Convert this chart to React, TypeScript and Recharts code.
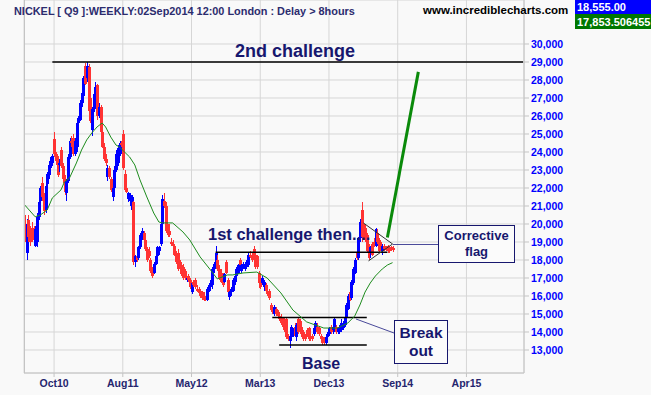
import { ComposedChart, Bar, Line, XAxis, YAxis, CartesianGrid, ReferenceLine } from 'recharts';

const FONT = '"Liberation Sans", Arial, sans-serif';
const NAVY = '#17176e';

// weekly OHLC, Jun 2010 .. 02 Sep 2014
const opens = [
  19800, 18400, 20200, 19500, 19800, 19500, 18800, 19000, 20400, 21300, 22300, 21500, 20800, 22200, 22700, 23300, 23400, 24700, 23900, 23600,
  23300, 24100, 23200, 22500, 21700, 22400, 23700, 24600, 24800, 23900, 24300, 25600, 25800, 26700, 27100, 28800, 28100, 28700, 27000, 25200,
  26400, 27200, 27700, 26000, 26500, 25100, 24300, 23600, 22600, 23100, 22500, 21500, 22000, 23000, 23400, 23900, 24500, 25000, 22800, 22000,
  21400, 21300, 20800, 21200, 17900, 18200, 18100, 18700, 19300, 19500, 19100, 18600, 18500, 18000, 17500, 17300, 17800, 18200, 18500, 18900,
  20000, 21300, 21000, 19800, 19600, 19000, 18900, 18800, 18400, 18400, 17900, 17700, 17600, 17400, 16900, 17100, 16900, 16200, 16800, 16900,
  16400, 16300, 16300, 16200, 16000, 15900, 15800, 16300, 16600, 16600, 17500, 17800, 18000, 17500, 17300, 17100, 16800, 17900, 16900, 15950,
  16200, 16300, 16800, 17100, 17300, 18000, 17400, 17700, 17500, 17800, 17700, 18300, 18300, 18600, 18300, 18200, 17300, 16700, 16700, 16500,
  16600, 16300, 16300, 15500, 15400, 15000, 15300, 15100, 14900, 14800, 14700, 14600, 14700, 13800, 13500, 13700, 14000, 14300, 13700, 14700,
  14600, 14100, 14000, 13800, 14100, 14200, 13800, 13800, 13900, 14200, 14300, 14200, 13800, 13700, 13600, 13400, 13700, 13900, 14300, 14100,
  14100, 14300, 14000, 14000, 14100, 14200, 14400, 14800, 15300, 16200, 15900, 16700, 17300, 18400, 18100, 19200, 20800, 20000, 19800, 19400,
  18800, 18400, 18900, 19000, 18800, 19500, 19100, 18900, 18500, 18800, 18700, 18800, 18600, 18700, 18650,
];
const highs = [
  20500, 20300, 20500, 19900, 20100, 19900, 19900, 20600, 21400, 22100, 22600, 21700, 22300, 22900, 23500, 23800, 23900, 25100, 24000, 23800,
  23600, 24300, 23400, 22700, 22500, 23900, 24800, 24900, 25000, 24800, 25800, 26000, 26900, 27500, 28200, 28950, 29000, 28900, 27300, 26500,
  27500, 27900, 27800, 26700, 26600, 25200, 24500, 23900, 23300, 23200, 22600, 22100, 23200, 24100, 24400, 24600, 24600, 25200, 23000, 22300,
  21800, 21700, 21600, 21300, 18300, 18500, 18800, 19500, 19800, 19600, 19300, 18700, 18700, 18100, 17600, 17900, 18300, 18800, 18800, 20100,
  21600, 21700, 21200, 20000, 20000, 19200, 19100, 18900, 18500, 18600, 18000, 17800, 17800, 17500, 17100, 17200, 17000, 16800, 16900, 17000,
  16600, 16500, 16400, 16300, 16200, 16000, 16500, 16700, 17000, 17600, 17900, 18800, 18300, 17700, 17500, 17300, 17300, 18000, 17000, 16300,
  16500, 17000, 17200, 17600, 17800, 18100, 17800, 17900, 17900, 18100, 18400, 18500, 18400, 18750, 18400, 18300, 17400, 16900, 17100, 16900,
  16700, 16500, 16400, 15600, 15500, 15500, 15400, 15200, 15000, 15000, 14800, 14800, 14800, 13900, 13900, 14400, 14200, 14500, 14500, 14800,
  14700, 14300, 14100, 13900, 14200, 14300, 13900, 13900, 14300, 14600, 14500, 14300, 13900, 13800, 13700, 13800, 14000, 14300, 14400, 14400,
  14800, 14400, 14300, 14400, 14700, 14600, 14900, 15600, 16100, 16300, 16900, 17600, 18100, 18500, 19300, 20300, 21200, 20100, 20000, 19500,
  18900, 18800, 19000, 19200, 19800, 19700, 19200, 19000, 18900, 18900, 18800, 18850, 18700, 18800, 18750,
];
const lows = [
  19000, 18000, 19000, 18800, 19000, 18900, 18700, 18700, 20200, 21200, 21300, 20500, 20600, 22000, 22500, 23100, 23200, 23700, 23300, 22600,
  22900, 23100, 22300, 21600, 21300, 22300, 23600, 24300, 23800, 23800, 24000, 25400, 25700, 26500, 27000, 27700, 27900, 26200, 25600, 24900,
  26200, 26500, 25800, 25900, 25000, 24200, 23500, 23200, 22400, 22500, 21800, 21300, 21900, 22900, 23200, 23800, 24300, 23000, 21800, 21700,
  21200, 21000, 20500, 17700, 17600, 17900, 18000, 18600, 19100, 19000, 18500, 17900, 18100, 17300, 17000, 17200, 17700, 18100, 18300, 18800,
  19900, 20900, 19500, 19300, 19300, 18800, 18600, 18200, 17800, 17400, 17400, 17100, 16900, 16900, 16800, 16800, 16400, 16100, 16500, 16400,
  16200, 16100, 15900, 15800, 15700, 15700, 15700, 16200, 16500, 16400, 17300, 17700, 17400, 16900, 16700, 16500, 16700, 17200, 16100, 15800,
  16000, 16200, 16600, 17000, 17200, 17600, 17300, 17500, 17400, 17600, 17600, 18100, 17900, 18200, 17500, 17500, 16450, 16400, 16600, 16300,
  16200, 16000, 15800, 15100, 15000, 14900, 14900, 14800, 14600, 14400, 14200, 14000, 13600, 13500, 13100, 13500, 13700, 13700, 13500, 13900,
  13900, 13600, 13500, 13500, 13700, 13500, 13500, 13500, 13800, 14100, 13900, 13800, 13500, 13300, 13300, 13300, 13600, 13800, 13900, 13900,
  14000, 13900, 13900, 13900, 14000, 14100, 14300, 14700, 15200, 15700, 15800, 16600, 17200, 18000, 18000, 19000, 19000, 19200, 19000, 18400,
  18000, 18100, 18200, 18700, 18700, 18900, 18400, 18600, 18300, 18500, 18500, 18400, 18400, 18500, 18450,
];
const closes = [
  19200, 20000, 19300, 19000, 19200, 19100, 19700, 20400, 21200, 22000, 21500, 20700, 22100, 22800, 23300, 23700, 23800, 23900, 23500, 22700,
  23400, 23200, 22500, 21800, 22400, 23700, 24600, 24500, 23900, 24600, 25600, 25900, 26700, 27300, 28100, 27800, 28800, 26300, 25700, 26400,
  27200, 27600, 26000, 26500, 25100, 24300, 23600, 23400, 23100, 22600, 21900, 22000, 23000, 23900, 24200, 24500, 24400, 23100, 21900, 21800,
  21700, 21600, 21500, 17900, 18200, 18000, 18700, 19400, 19600, 19100, 18600, 18000, 18200, 17400, 17100, 17800, 18200, 18700, 18700, 20000,
  21400, 21000, 19600, 19400, 19400, 18900, 18800, 18300, 17900, 17500, 17500, 17200, 17000, 17000, 17000, 16900, 16500, 16700, 16600, 16500,
  16300, 16200, 16000, 15900, 15800, 15800, 16400, 16600, 16900, 17500, 17800, 18400, 17500, 17000, 16800, 16600, 17200, 17300, 16200, 16200,
  16400, 16900, 17100, 17500, 17700, 17700, 17700, 17800, 17800, 18000, 18300, 18200, 18000, 18300, 17600, 17600, 16700, 16500, 17000, 16800,
  16300, 16100, 15900, 15200, 15100, 15400, 15000, 14900, 14700, 14500, 14300, 14100, 13700, 13600, 13800, 14300, 14100, 13800, 14400, 14000,
  14000, 13700, 13600, 13600, 13800, 13600, 13600, 13600, 14200, 14500, 14000, 13900, 13600, 13400, 13400, 13700, 13900, 14200, 14000, 14300,
  14700, 14000, 14200, 14300, 14500, 14500, 14800, 15500, 16000, 15800, 16800, 17500, 18000, 18100, 19200, 20100, 19300, 19300, 19100, 18500,
  18100, 18700, 18300, 18800, 19700, 19000, 18500, 18700, 18800, 18600, 18550, 18500, 18500, 18550, 18555,
];

// green moving average, read at sample weeks
const maWeeks = [
  0, 6, 9, 13, 16, 21, 23, 26, 30, 33, 36, 39, 42, 45, 47, 50, 53, 55, 58, 61, 64, 67, 71, 75, 78, 80,
  86, 92, 96, 102, 108, 112, 118, 121, 127, 135, 141, 149, 156, 164, 174, 182, 188, 192, 195, 198, 201, 204, 208, 211, 214,
];
const maValues = [
  21050, 20400, 20500, 20780, 21450, 21890, 22330, 22560, 23390, 24110, 24670, 25060, 25390, 25610, 25390, 24830, 24390, 24280, 24000, 23720, 23280, 22450, 21500, 20610, 20110, 20060,
  20060, 19560, 19110, 18170, 17450, 16950, 17170, 17170, 17280, 17330, 17000, 16170, 15220, 14560, 14220, 14220, 14500, 14890, 15500, 16220, 16720, 17110, 17500, 17720, 17853,
];

const tickWeeks = [17, 57, 97, 137, 177, 217, 257];
const tickLabels = ['Oct10', 'Aug11', 'May12', 'Mar13', 'Dec13', 'Sep14', 'Apr15'];
const priceTicks = [13000, 14000, 15000, 16000, 17000, 18000, 19000, 20000, 21000, 22000, 23000, 24000, 25000, 26000, 27000, 28000, 29000, 30000];

// drawn annotations
const secondChallenge = 29000;
const firstChallenge = 18430;
const baseTop = 14800;
const baseBottom = 13280;

const TOTAL_WEEKS = 291;

const rows = Array.from({ length: TOTAL_WEEKS }, (_, i) => {
  const has = i < closes.length;
  const k = maWeeks.indexOf(i);
  return {
    i,
    open: has ? opens[i] : null,
    high: has ? highs[i] : null,
    low: has ? lows[i] : null,
    close: has ? closes[i] : null,
    hl: has ? [lows[i], highs[i]] : null,
    ma: k >= 0 ? maValues[k] : null,
  };
});

function Candle(props: any) {
  const { x, y, width, height, payload } = props;
  if (payload == null || payload.high == null) return null;
  const top = Math.min(y, y + height);
  const h = Math.abs(height);
  const range = payload.high - payload.low || 1;
  const toY = (v: number) => top + ((payload.high - v) / range) * h;
  const cx = Math.round(x + width / 2);
  const color = payload.close >= payload.open ? '#0000ff' : '#ff3333';
  const yo = toY(payload.open);
  const yc = toY(payload.close);
  return (
    <g shapeRendering="crispEdges">
      <rect x={cx} y={top} width={1} height={Math.max(h, 1)} fill={color} />
      <rect x={cx - 1} y={Math.min(yo, yc)} width={3} height={Math.max(Math.abs(yc - yo), 2)} fill={color} />
    </g>
  );
}

export default function App() {
  return (
    <div style={{ position: 'absolute', left: 0, top: 0, width: 651, height: 395, background: '#f9f9f9', fontFamily: FONT }}>
      <ComposedChart width={651} height={395} data={rows} margin={{ top: 0, right: 67, bottom: 0, left: 24 }} barCategoryGap={0}>
        <CartesianGrid stroke="#d6d6d6" />
        <XAxis
          dataKey="i"
          ticks={tickWeeks}
          interval={0}
          height={22}
          tickSize={4}
          tickMargin={3}
          stroke="#c4c4c4"
          tick={{ fill: '#25256e', fontSize: 10.5, fontWeight: 'bold', fontFamily: FONT }}
          tickFormatter={(v) => tickLabels[tickWeeks.indexOf(Number(v))] ?? ''}
        />
        <YAxis
          orientation="right"
          width={60}
          domain={[11722, 32444]}
          allowDataOverflow
          ticks={priceTicks}
          interval={0}
          tickSize={5}
          tickMargin={2}
          stroke="#c4c4c4"
          tick={{ fill: '#0000ff', fontSize: 10.5, fontWeight: 'bold', fontFamily: FONT }}
          tickFormatter={(v) => Number(v).toLocaleString('en-US')}
        />
        <ReferenceLine segment={[{ x: 16, y: secondChallenge }, { x: 290, y: secondChallenge }]} stroke="#000" strokeWidth={1.5} ifOverflow="visible" />
        <ReferenceLine segment={[{ x: 111, y: firstChallenge }, { x: 211, y: firstChallenge }]} stroke="#000" strokeWidth={1.5} ifOverflow="visible" />
        <ReferenceLine segment={[{ x: 144, y: baseTop }, { x: 199, y: baseTop }]} stroke="#000" strokeWidth={1.5} ifOverflow="visible" />
        <ReferenceLine segment={[{ x: 148, y: baseBottom }, { x: 199, y: baseBottom }]} stroke="#000" strokeWidth={1.5} ifOverflow="visible" />
        <Bar dataKey="hl" shape={(p: any) => <Candle {...p} />} isAnimationActive={false} />
        <Line dataKey="ma" stroke="#1e8c1e" strokeWidth={1} dot={false} connectNulls isAnimationActive={false} />
        <ReferenceLine segment={[{ x: 197, y: 20060 }, { x: 214, y: 18890 }]} stroke="#333" strokeWidth={1} ifOverflow="visible" />
        <ReferenceLine segment={[{ x: 200, y: 17950 }, { x: 214, y: 18890 }]} stroke="#333" strokeWidth={1} ifOverflow="visible" />
        <ReferenceLine segment={[{ x: 211, y: 19250 }, { x: 229, y: 28450 }]} stroke="#0a8a0a" strokeWidth={3} ifOverflow="visible" />
      </ComposedChart>

      <svg width={651} height={395} style={{ position: 'absolute', left: 0, top: 0, pointerEvents: 'none' }} fontFamily={FONT}>
        <line x1={24.5} y1={0} x2={24.5} y2={373} stroke="#c4c4c4" />
        <text x={14} y={15} fontSize={10.9} fontWeight="bold" fill="#2c2c6e">NICKEL [ Q9 ]:WEEKLY:02Sep2014 12:00 London : Delay &gt; 8hours</text>
        <text x={423} y={14} fontSize={11.5} fontWeight="bold" fill="#000">www.incrediblecharts.com</text>
        <rect x={575} y={0} width={76} height={14} fill="#0000ff" />
        <text x={577} y={11} fontSize={11} fontWeight="bold" fill="#fff">18,555.00</text>
        <rect x={575} y={14} width={76} height={15} fill="#007800" />
        <text x={577} y={26} fontSize={11} fontWeight="bold" fill="#fff">17,853.506455</text>

        <text x={295} y={57} fontSize={18} fontWeight="bold" fill={NAVY} textAnchor="middle">2nd challenge</text>
        <text x={208} y={240} fontSize={16.5} fontWeight="bold" fill={NAVY}>1st challenge then....</text>
        <text x={302} y={369} fontSize={16} fontWeight="bold" fill={NAVY}>Base</text>

        <line x1={356} y1={319} x2={394} y2={333} stroke="#4a4a9a" strokeWidth={1} />
        <rect x={394.5} y={320.5} width={53} height={43} fill="#fbfbfb" stroke={NAVY} strokeWidth={1} />
        <text x={421} y={338} fontSize={15.5} fontWeight="bold" fill={NAVY} textAnchor="middle">Break</text>
        <text x={421} y={356} fontSize={15.5} fontWeight="bold" fill={NAVY} textAnchor="middle">out</text>

        <line x1={393} y1={244.5} x2={438} y2={244.5} stroke="#4a4a9a" strokeWidth={1} />
        <rect x={438.5} y={225.5} width={76} height={37} fill="#fbfbfb" stroke={NAVY} strokeWidth={1} />
        <text x={476.5} y={240} fontSize={13} fontWeight="bold" fill={NAVY} textAnchor="middle">Corrective</text>
        <text x={476.5} y={256} fontSize={13} fontWeight="bold" fill={NAVY} textAnchor="middle">flag</text>
      </svg>
    </div>
  );
}
